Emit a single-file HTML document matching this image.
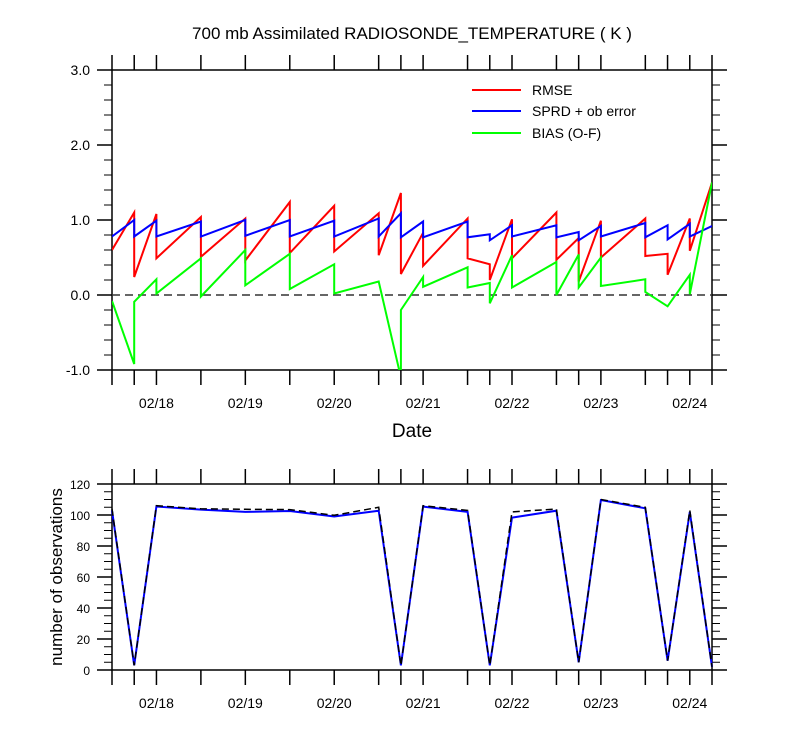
<!DOCTYPE html>
<html><head><meta charset="utf-8"><style>
html,body{margin:0;padding:0;background:#fff;}
svg{display:block;font-family:"Liberation Sans",sans-serif;}
</style></head><body>
<svg id="c" width="800" height="750" viewBox="0 0 800 750">
<text x="412" y="39" text-anchor="middle" font-size="17">700 mb Assimilated RADIOSONDE_TEMPERATURE ( K )</text>
<text x="412" y="437" text-anchor="middle" font-size="19">Date</text>
<text transform="translate(62,577) rotate(-90)" text-anchor="middle" font-size="17">number of observations</text>
<g>
<line x1="472" y1="90" x2="521" y2="90" stroke="#ff0000" stroke-width="2"/>
<text x="532" y="95" font-size="14">RMSE</text>
<line x1="472" y1="111" x2="521" y2="111" stroke="#0000ff" stroke-width="2"/>
<text x="532" y="116" font-size="14">SPRD + ob error</text>
<line x1="472" y1="133" x2="521" y2="133" stroke="#00ff00" stroke-width="2"/>
<text x="532" y="138" font-size="14">BIAS (O-F)</text>
</g>
</svg>
<script>
// time in hours since 02/17 12Z
const times = [0,6,12,24,36,48,60,72,78,84,96,102,108,120,126,132,144,150,156,162];
const rmseBefore = [0.6,1.10,1.08,1.04,1.02,1.24,1.19,1.09,1.36,0.83,1.02,0.41,1.01,1.10,0.76,0.99,1.02,0.55,1.02,1.50];
const rmseAfter  = [0.6,0.24,0.49,0.51,0.46,0.56,0.58,0.53,0.28,0.39,0.49,0.20,0.49,0.47,0.18,0.50,0.52,0.27,0.59,1.50];
const sprdBefore = [0.78,1.00,0.99,0.98,1.00,1.00,0.99,1.02,1.09,0.98,0.98,0.81,0.93,0.93,0.84,0.92,0.96,0.93,0.95,0.92];
const sprdAfter  = [0.78,0.78,0.78,0.78,0.79,0.78,0.78,0.78,0.77,0.77,0.77,0.73,0.78,0.77,0.73,0.78,0.77,0.74,0.78,0.92];
const biasBefore = [-0.08,-0.92,0.21,0.49,0.60,0.55,0.41,0.18,-1.10,0.24,0.37,0.16,0.53,0.44,0.54,0.50,0.21,-0.15,0.27,1.50];
const biasAfter  = [-0.08,-0.09,0.02,-0.02,0.13,0.08,0.02,0.18,-0.20,0.11,0.10,-0.11,0.10,0.00,0.10,0.12,0.04,-0.15,0.01,1.50];
const obsUsed    = [103,3,105.5,103.5,102,102.6,99,102.8,3,105.4,102,3,98.3,102.8,5,109.7,104.3,6,102,2];
const obsPossible= [104,3,106,104,103.7,103.5,99.8,105,3,106,103,3,102,103.9,5,110,105,6,103,2];
const topTicks = ["3.0","2.0","1.0","0.0","-1.0"];
const topTickVals = [3,2,1,0,-1];
const botTickVals = [0,20,40,60,80,100,120];
const dateLabels = ["02/18","02/19","02/20","02/21","02/22","02/23","02/24"];
const dateHours = [12,36,60,84,108,132,156];

const NS="http://www.w3.org/2000/svg", svg=document.getElementById('c');
const X0=112,X1=712, TMAX=162;
const xs=t=>X0+(X1-X0)*t/TMAX;
const T0=70,T1=370, yT=v=>T0+(3-v)*(T1-T0)/4;
const B0=484,B1=670, yB=v=>B1-(v/120)*(B1-B0);
function mk(tag,a,p){const e=document.createElementNS(NS,tag);for(const k in a)e.setAttribute(k,a[k]);(p||svg).appendChild(e);return e;}

function axes(top,bot,yfun,vals,labels,minorStep,vmin,vmax,name){
  const g=mk('g',{});
  
  
  mk('rect',{x:X0,y:top,width:X1-X0,height:bot-top,fill:'none',stroke:'#000','stroke-width':1.5},g);
  times.forEach(t=>{const x=xs(t);
    mk('line',{x1:x,y1:top,x2:x,y2:top-15,stroke:'#000','stroke-width':1.5},g);
    mk('line',{x1:x,y1:bot,x2:x,y2:bot+15,stroke:'#000','stroke-width':1.5},g);});
  for(let v=vmin;v<=vmax+1e-6;v+=minorStep){const y=yfun(v);
    mk('line',{x1:X0,y1:y,x2:X0-8,y2:y,stroke:'#000'},g);
    mk('line',{x1:X1,y1:y,x2:X1+8,y2:y,stroke:'#000'},g);}
  vals.forEach((v,i)=>{const y=yfun(v);
    mk('line',{x1:X0,y1:y,x2:X0-15,y2:y,stroke:'#000','stroke-width':1.5},g);
    mk('line',{x1:X1,y1:y,x2:X1+15,y2:y,stroke:'#000','stroke-width':1.5},g);
    const tx=mk('text',{x:X0-22,y:y+5,'text-anchor':'end','font-size':name=='top'?14:12},g);tx.textContent=labels[i];
    
    });
  dateHours.forEach((h,i)=>{const tx=mk('text',{x:xs(h),y:bot+38,'text-anchor':'middle','font-size':14},g);tx.textContent=dateLabels[i];
    
    });
}
axes(T0,T1,yT,topTickVals,topTicks,0.2,-1,3,'top');
axes(B0,B1,yB,botTickVals,botTickVals.map(String),5,0,120,'bottom');

const zl=mk('line',{x1:X0,y1:yT(0),x2:X1,y2:yT(0),stroke:'#333','stroke-width':1.5,'stroke-dasharray':'8,5'});



const cp=mk('clipPath',{id:'cp'});
mk('rect',{x:X0,y:T0,width:X1-X0,height:T1-T0},cp);

function saw(before,after,color,name){
  let d='';
  times.forEach((t,i)=>{const x=xs(t).toFixed(1);
    d+=(i?'L':'M')+x+','+yT(before[i]).toFixed(1)+'L'+x+','+yT(after[i]).toFixed(1);});
  const p=mk('path',{d:d,fill:'none',stroke:color,'stroke-width':2,'clip-path':'url(#cp)'});
  
  
}
saw(rmseBefore,rmseAfter,'#ff0000','rmse-line');
saw(sprdBefore,sprdAfter,'#0000ff','sprd-line');
saw(biasBefore,biasAfter,'#00ff00','bias-line');

function line(vals,attrs,name){
  const d=times.map((t,i)=>(i?'L':'M')+xs(t).toFixed(1)+','+yB(vals[i]).toFixed(1)).join('');
  const p=mk('path',Object.assign({d:d,fill:'none'},attrs));
  
  
}
line(obsUsed,{stroke:'#0000ff','stroke-width':2},'obs-used-line');
line(obsPossible,{stroke:'#000','stroke-width':1.5,'stroke-dasharray':'7,4'},'obs-possible-line');
</script>
</body></html>
